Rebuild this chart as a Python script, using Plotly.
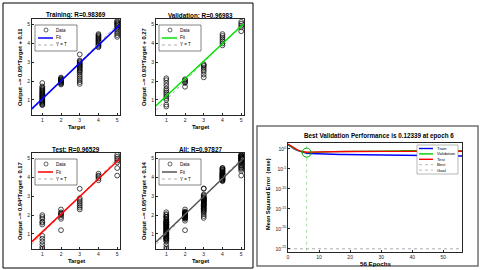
import plotly.graph_objects as go

W, H = 480, 270

# ---------------- regression data (network outputs grouped by target) ----------------
train_out = {
    1: [0.72, 0.76, 0.8, 0.84, 0.88, 0.92, 0.96, 1.0, 1.04, 1.08, 1.12, 1.16, 1.2, 1.24,
        1.28, 1.32, 1.36, 1.4, 1.45, 1.5, 1.55, 1.6, 1.66, 1.72, 1.9],
    2: [1.82, 1.86, 1.9, 1.93, 1.96, 1.99, 2.02, 2.05, 2.08, 2.11, 2.15, 2.19],
    3: [1.85, 1.95, 2.05, 2.15, 2.25, 2.35, 2.45, 2.52, 2.58, 2.64, 2.7, 2.75, 2.8, 2.85,
        2.9, 2.95, 3.0, 3.05, 3.1, 3.42],
    4: [3.8, 3.85, 3.9, 3.95, 4.0, 4.05, 4.1, 4.15, 4.2, 4.25, 4.3, 4.35, 4.4, 4.45, 4.5],
    5: [4.35, 4.45, 4.55, 4.65, 4.75, 4.82, 4.88, 4.94, 5.0, 5.05, 5.1, 5.15, 5.2],
}
val_out = {
    1: [0.65, 0.75, 1.0, 1.1, 1.2, 1.3, 1.4, 1.5, 1.6, 1.75, 1.9, 2.05, 2.15],
    2: [1.7, 1.9, 1.95, 2.0, 2.05, 2.1],
    3: [2.2, 2.35, 2.5, 2.6, 2.7, 2.8, 2.85, 2.9],
    4: [3.9, 4.0, 4.1, 4.2, 4.3, 4.4, 4.5],
    5: [4.65, 4.85, 4.95, 5.05, 5.15],
}
test_out = {
    1: [0.2, 0.3, 0.45, 0.6, 0.75, 0.9, 1.5, 1.6, 1.65, 1.8, 1.9, 2.0],
    2: [1.2, 1.8, 1.9, 2.0, 2.05, 2.1, 2.15, 2.3],
    3: [2.3, 2.4, 2.5, 2.6, 2.7, 2.8, 2.9, 3.4],
    4: [3.85, 3.95, 4.05, 4.1, 4.2],
    5: [4.1, 4.5, 4.8, 4.9, 5.0, 5.1, 5.2],
}
# "All" = union of the three sets
all_out = {t: train_out[t] + val_out[t] + test_out[t] for t in train_out}

reg_names = ["Training", "Validation", "Test", "All"]
reg_R = ["0.98369", "0.96983", "0.96529", "0.97827"]
reg_slope = [0.95, 0.93, 0.94, 0.95]
reg_icpt = [0.11, 0.27, 0.17, 0.14]
reg_sets = [train_out, val_out, test_out, all_out]
reg_xrange = [0.45, 5.15]
reg_yrange = [0.2, 5.3]
reg_ticks = [1, 2, 3, 4, 5]

# ---------------- training performance data ----------------
epochs = list(range(57))
perf_train = [12, 3.0, 1.0, 0.45, 0.25, 0.15, 0.085, 0.075, 0.068, 0.062,
              0.058, 0.055, 0.052, 0.050, 0.048, 0.046, 0.044, 0.043, 0.042, 0.041,
              0.040, 0.039, 0.038, 0.037, 0.036, 0.035, 0.034, 0.033, 0.032, 0.031,
              0.030, 0.030, 0.029, 0.028, 0.028, 0.027, 0.026, 0.026, 0.025, 0.025,
              0.024, 0.024, 0.023, 0.023, 0.022, 0.022, 0.021, 0.021, 0.021, 0.020,
              0.020, 0.020, 0.019, 0.019, 0.019, 0.018, 0.018]
perf_val = [15, 4.0, 1.3, 0.5, 0.26, 0.16, 0.12339, 0.14, 0.16, 0.18,
            0.19, 0.20, 0.21, 0.21, 0.22, 0.22, 0.23, 0.23, 0.24, 0.24,
            0.25, 0.25, 0.26, 0.26, 0.27, 0.27, 0.28, 0.29, 0.30, 0.31,
            0.32, 0.32, 0.33, 0.33, 0.34, 0.34, 0.34, 0.35, 0.35, 0.35,
            0.36, 0.36, 0.36, 0.36, 0.37, 0.37, 0.37, 0.37, 0.37, 0.37,
            0.37, 0.37, 0.37, 0.37, 0.37, 0.37, 0.37]
perf_test = [18, 5.0, 1.5, 0.6, 0.3, 0.19, 0.15, 0.16, 0.17, 0.18,
             0.19, 0.20, 0.20, 0.21, 0.21, 0.22, 0.22, 0.22, 0.23, 0.23,
             0.23, 0.24, 0.24, 0.24, 0.24, 0.25, 0.25, 0.25, 0.25, 0.25,
             0.25, 0.25, 0.25, 0.25, 0.25, 0.26, 0.26, 0.26, 0.26, 0.26,
             0.26, 0.26, 0.26, 0.26, 0.26, 0.26, 0.26, 0.26, 0.26, 0.26,
             0.26, 0.26, 0.26, 0.26, 0.26, 0.26, 0.26]
best_epoch = 6
best_perf = 0.12339
goal = 1e-25
perf_tickvals = [1e-25, 1e-20, 1e-15, 1e-10, 1e-5, 1]
perf_ticktext = ["10<sup>-25</sup>", "10<sup>-20</sup>", "10<sup>-15</sup>",
                 "10<sup>-10</sup>", "10<sup>-5</sup>", "10<sup>0</sup>"]

# ---------------- styling / layout ----------------
FONT = "Liberation Sans, Arial, sans-serif"
AX = "#262626"
fit_colors = ["#0000ff", "#00e600", "#ff0000", "#555555"]
# pixel boxes (left, right, top, bottom)
boxes = [(32, 120, 19, 115), (156, 244, 19, 115), (32, 120, 153, 249), (156, 244, 153, 249)]
perf_box = (288, 462, 143, 252)


def px(x):
    return x / W


def py(y):
    return 1 - y / H


fig = go.Figure()
annotations = []
shapes = []


def ann(text, x, y, size, xanchor="center", yanchor="middle", angle=0, color="#000"):
    annotations.append(dict(text=text, x=px(x), y=py(y), xref="paper", yref="paper",
                            showarrow=False, xanchor=xanchor, yanchor=yanchor,
                            textangle=angle, font=dict(size=size, color=color, family=FONT)))


def hline(x0, x1, y, color, width, dash="solid"):
    shapes.append(dict(type="line", xref="paper", yref="paper", x0=px(x0), x1=px(x1),
                       y0=py(y), y1=py(y), line=dict(color=color, width=width, dash=dash)))


def rect(x0, x1, y0, y1, color, width, fill="rgba(0,0,0,0)"):
    shapes.append(dict(type="rect", xref="paper", yref="paper", x0=px(x0), x1=px(x1),
                       y0=py(y1), y1=py(y0), line=dict(color=color, width=width),
                       fillcolor=fill, layer="above"))


# panel frames
rect(3, 253, 3, 268, "#000000", 1, "rgba(0,0,0,0)")
rect(257, 478, 126, 266, "#707070", 1.5, "rgba(0,0,0,0)")

layout_axes = {}
for i in range(4):
    n = i + 1
    xa, ya = f"x{n}", f"y{n}"
    l, r, t, b = boxes[i]
    data = reg_sets[i]
    xs, ys = [], []
    for tgt in reg_ticks:
        xs += [tgt] * len(data[tgt])
        ys += data[tgt]
    fig.add_trace(go.Scatter(x=xs, y=ys, mode="markers", xaxis=xa, yaxis=ya,
                             marker=dict(symbol="circle-open", size=4.8, color="#000",
                                         line=dict(width=0.7)), showlegend=False))
    fig.add_trace(go.Scatter(x=reg_xrange, y=reg_xrange, mode="lines", xaxis=xa, yaxis=ya,
                             line=dict(color="#999999", width=0.8, dash="dot"), showlegend=False))
    fx = reg_xrange
    fy = [reg_slope[i] * v + reg_icpt[i] for v in fx]
    fig.add_trace(go.Scatter(x=fx, y=fy, mode="lines", xaxis=xa, yaxis=ya,
                             line=dict(color=fit_colors[i], width=1.5), showlegend=False))
    axkey = "xaxis" if n == 1 else f"xaxis{n}"
    aykey = "yaxis" if n == 1 else f"yaxis{n}"
    common = dict(showline=True, mirror=True, linecolor=AX, linewidth=0.8, ticks="inside",
                  ticklen=2, tickcolor=AX, showgrid=False, zeroline=False,
                  tickfont=dict(size=5, family=FONT, color="#222"), tickvals=reg_ticks)
    layout_axes[axkey] = dict(domain=[px(l), px(r)], anchor=ya, range=reg_xrange, **common)
    layout_axes[aykey] = dict(domain=[py(b), py(t)], anchor=xa, range=reg_yrange, **common)

    cx = (l + r) / 2
    ann(f"<b>{reg_names[i]}: R={reg_R[i]}</b>", cx, t - 4, 6.3)
    ann("<b>Target</b>", cx, b + 12, 5.8)
    ann(f"<b>Output ~= {reg_slope[i]:.2f}*Target + {reg_icpt[i]:.2f}</b>", l - 12, (t + b) / 2,
        5.8, angle=-90)
    # legend box
    lx0, lx1, ly0, ly1 = l + 3, l + 45, t + 6, t + 32
    rect(lx0, lx1, ly0, ly1, "#333333", 0.6, "#ffffff")
    shapes.append(dict(type="circle", xref="paper", yref="paper", x0=px(lx0 + 9), x1=px(lx0 + 13),
                       y0=py(ly0 + 7), y1=py(ly0 + 3), line=dict(color="#000", width=0.6),
                       layer="above"))
    ann("Data", lx0 + 19, ly0 + 5, 4.5, xanchor="left")
    hline(lx0 + 3, lx0 + 18, ly0 + 13, fit_colors[i], 1.5)
    ann("Fit", lx0 + 19, ly0 + 13, 4.5, xanchor="left")
    hline(lx0 + 3, lx0 + 18, ly0 + 20, "#999999", 0.8, "dot")
    ann("Y = T", lx0 + 19, ly0 + 20, 4.5, xanchor="left")

# ---------------- performance plot ----------------
fig.add_trace(go.Scatter(x=[best_epoch, best_epoch], y=[goal / 3, 100], mode="lines",
                         xaxis="x5", yaxis="y5", line=dict(color="#8fd88f", width=0.8, dash="dot"),
                         showlegend=False))
fig.add_trace(go.Scatter(x=[0, 56], y=[goal, goal], mode="lines", xaxis="x5", yaxis="y5",
                         line=dict(color="#999999", width=0.8, dash="dot"), showlegend=False))
fig.add_trace(go.Scatter(x=epochs, y=perf_train, mode="lines", xaxis="x5", yaxis="y5",
                         line=dict(color="#0000ff", width=1.4), showlegend=False))
fig.add_trace(go.Scatter(x=epochs, y=perf_val, mode="lines", xaxis="x5", yaxis="y5",
                         line=dict(color="#00cc00", width=1.4), showlegend=False))
fig.add_trace(go.Scatter(x=epochs, y=perf_test, mode="lines", xaxis="x5", yaxis="y5",
                         line=dict(color="#ff0000", width=1.4), showlegend=False))
fig.add_trace(go.Scatter(x=[best_epoch], y=[best_perf], mode="markers", xaxis="x5", yaxis="y5",
                         marker=dict(symbol="circle-open", size=9, color="#00aa00",
                                     line=dict(width=1)), showlegend=False))
pl, pr, pt, pb = perf_box
pcommon = dict(showline=True, mirror=True, linecolor=AX, linewidth=0.8, ticks="inside",
               ticklen=2, tickcolor=AX, showgrid=False, zeroline=False,
               tickfont=dict(size=5, family=FONT, color="#222"))
layout_axes["xaxis5"] = dict(domain=[px(pl), px(pr)], anchor="y5", range=[0, 56],
                             tickvals=[0, 10, 20, 30, 40, 50], **pcommon)
layout_axes["yaxis5"] = dict(domain=[py(pb), py(pt)], anchor="x5", type="log", range=[-25.8, 1.5],
                             tickvals=perf_tickvals, ticktext=perf_ticktext, **pcommon)
ann(f"<b>Best Validation Performance is {best_perf} at epoch {best_epoch}</b>", 379, 136, 6.3)
ann("<b>56 Epochs</b>", 376, 263, 6.2)
ann("<b>Mean Squared Error  (mse)</b>", 268, 194, 5.6, angle=-90)

# performance legend
rect(417, 458, 145, 174, "#888888", 0.6, "#ffffff")
leg_items = [("Train", "#0000ff", "solid", 1.4), ("Validation", "#00cc00", "solid", 1.4),
             ("Test", "#ff0000", "solid", 1.4), ("Best", "#999999", "dot", 0.7),
             ("Goal", "#999999", "dot", 0.7)]
for k, (name, col, dash, wd) in enumerate(leg_items):
    yy = 148.5 + k * 5.4
    hline(419, 433, yy, col, wd, dash)
    ann(name, 435, yy, 4.2, xanchor="left")

fig.update_layout(width=W, height=H, margin=dict(l=0, r=0, t=0, b=0),
                  paper_bgcolor="#ffffff", plot_bgcolor="#ffffff",
                  annotations=annotations, shapes=shapes, showlegend=False, **layout_axes)
fig.write_html("out.html", config={"displayModeBar": False},
               post_script="document.body.style.margin='0';document.body.style.padding='0';"
                           "document.body.style.overflow='hidden';")
